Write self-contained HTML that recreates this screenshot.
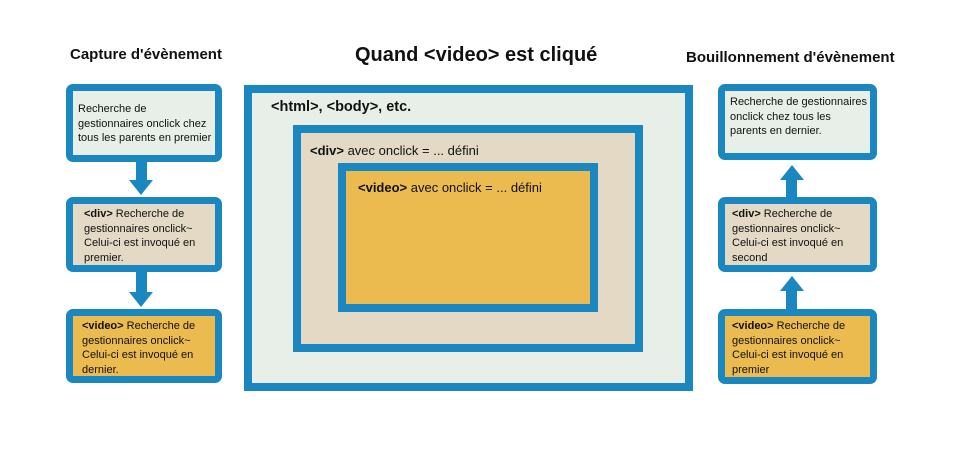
<!DOCTYPE html>
<html><head><meta charset="utf-8"><style>
body{margin:0;width:960px;height:452px;background:#fff;position:relative;font-family:"Liberation Sans",sans-serif;overflow:hidden;color:#111}
.b{position:absolute;box-sizing:border-box;border:7px solid #1a87c0;border-radius:7px;font-size:11px;line-height:14.5px;padding:3px 4px;white-space:nowrap}
.g{background:#e8efe9}.t{background:#e3d9c5}.y{background:#ebbb50}
.c{position:absolute;box-sizing:border-box;border:8px solid #1a87c0}
.h{position:absolute;font-weight:bold}
.s{position:absolute;background:#1a87c0}
.d{position:absolute;width:0;height:0;border-left:12px solid transparent;border-right:12px solid transparent}
</style></head><body>
<div class="h" style="left:70px;top:46px;font-size:15px">Capture d'évènement</div>
<div class="h" style="left:355px;top:44px;font-size:20px">Quand &lt;video&gt; est cliqué</div>
<div class="h" style="left:686px;top:49px;font-size:15px">Bouillonnement d'évènement</div>

<div class="b g" style="left:66px;top:84px;width:156px;height:78px;padding-top:11px;padding-left:5px">Recherche de<br>gestionnaires onclick chez<br>tous les parents en premier</div>
<div class="s" style="left:136px;top:162px;width:11px;height:18px"></div>
<div class="d" style="left:129px;top:180px;border-top:15px solid #1a87c0"></div>
<div class="b t" style="left:66px;top:197px;width:156px;height:75px;padding-left:11px"><b>&lt;div&gt;</b> Recherche de<br>gestionnaires onclick~<br>Celui-ci est invoqué en<br>premier.</div>
<div class="s" style="left:136px;top:272px;width:11px;height:20px"></div>
<div class="d" style="left:129px;top:292px;border-top:15px solid #1a87c0"></div>
<div class="b y" style="left:66px;top:309px;width:156px;height:74px;padding-left:9px"><b>&lt;video&gt;</b> Recherche de<br>gestionnaires onclick~<br>Celui-ci est invoqué en<br>dernier.</div>

<div class="b g" style="left:718px;top:84px;width:159px;height:76px;padding-top:4px;padding-left:5px">Recherche de gestionnaires<br>onclick chez tous les<br>parents en dernier.</div>
<div class="d" style="left:780px;top:165px;border-bottom:15px solid #1a87c0"></div>
<div class="s" style="left:786px;top:180px;width:11px;height:18px"></div>
<div class="b t" style="left:718px;top:197px;width:159px;height:75px;padding-left:7px"><b>&lt;div&gt;</b> Recherche de<br>gestionnaires onclick~<br>Celui-ci est invoqué en<br>second</div>
<div class="d" style="left:780px;top:276px;border-bottom:15px solid #1a87c0"></div>
<div class="s" style="left:786px;top:291px;width:11px;height:19px"></div>
<div class="b y" style="left:718px;top:309px;width:159px;height:75px;padding-left:7px"><b>&lt;video&gt;</b> Recherche de<br>gestionnaires onclick~<br>Celui-ci est invoqué en<br>premier</div>

<div class="c g" style="left:244px;top:85px;width:449px;height:306px"></div>
<div class="h" style="left:271px;top:99px;font-size:14.5px">&lt;html&gt;, &lt;body&gt;, etc.</div>
<div class="c t" style="left:293px;top:125px;width:350px;height:227px"></div>
<div style="position:absolute;left:310px;top:143px;font-size:13px"><b>&lt;div&gt;</b> avec onclick = ... défini</div>
<div class="c y" style="left:338px;top:163px;width:260px;height:149px"></div>
<div style="position:absolute;left:358px;top:180px;font-size:13px"><b>&lt;video&gt;</b> avec onclick = ... défini</div>
</body></html>
